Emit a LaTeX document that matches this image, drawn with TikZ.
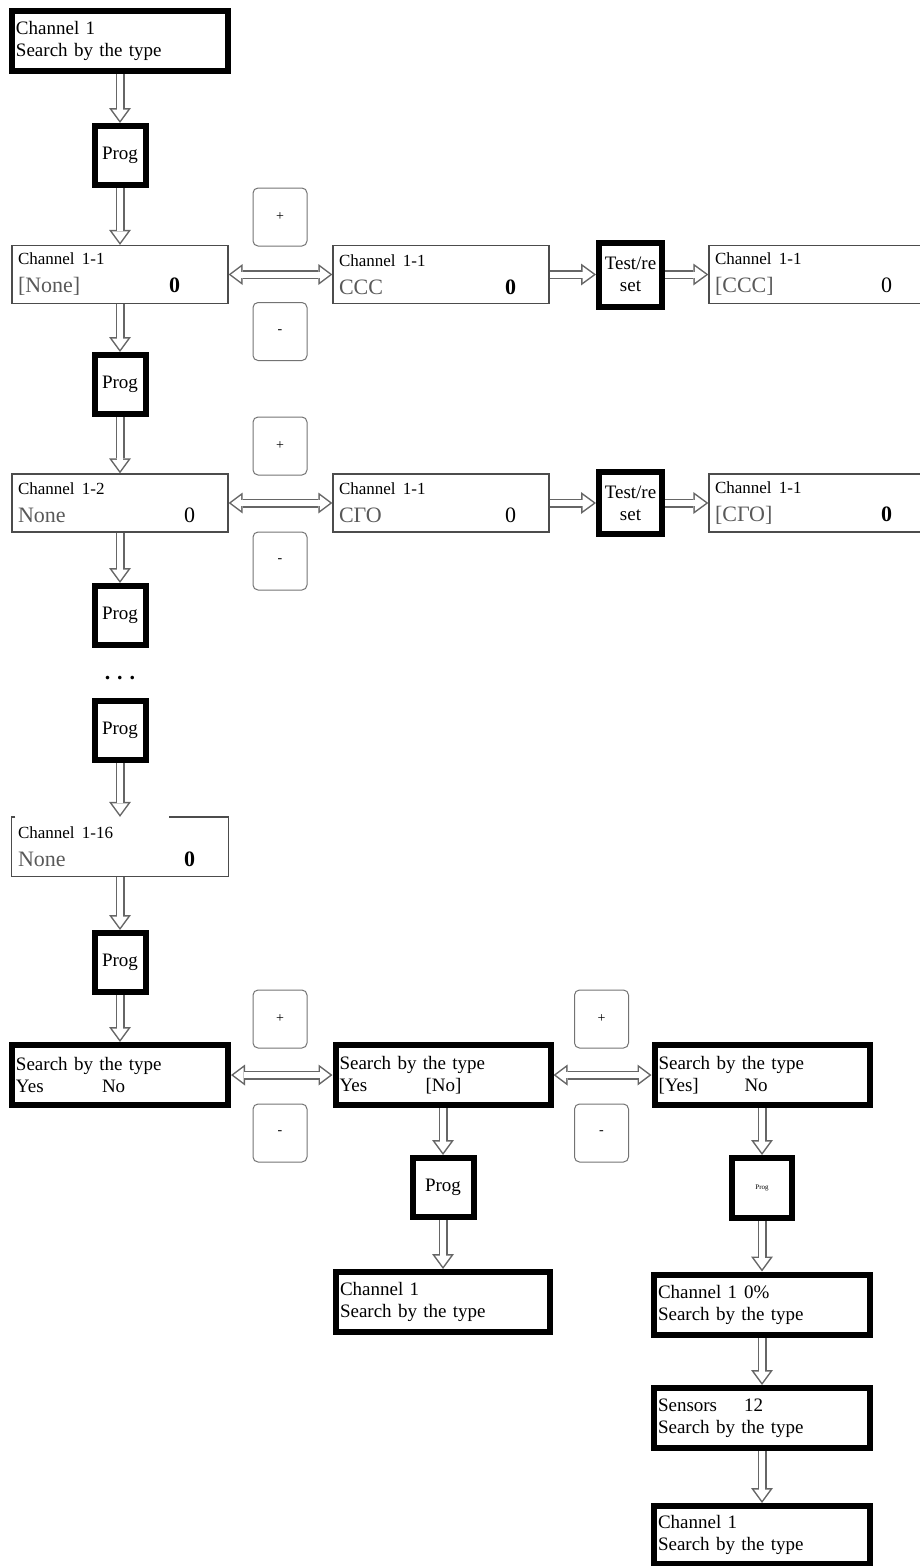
\documentclass[tikz,border=0pt]{standalone}
\usepackage{fontspec}
\setmainfont{Liberation Serif}
\usetikzlibrary{arrows.meta,backgrounds}

\definecolor{valgray}{gray}{0.35}
\newcommand{\chtitle}[1]{{\fontsize{17}{28}\selectfont #1}}
\newcommand{\chvalue}[3][166pt]{\makebox[#1][l]{\color{valgray}#2}#3}

\begin{document}
\begin{tikzpicture}[x=1pt,y=-1pt,
    thick box/.style={rectangle, draw=black, line width=6pt, minimum width=216pt,
      minimum height=60pt, text width=208pt, inner sep=4pt, align=left,
      font=\fontsize{19}{22}\selectfont},
    thin box/.style={rectangle, draw=black!70, line width=1.3pt, minimum width=216pt,
      minimum height=58pt, text width=204pt, inner xsep=6pt, inner ysep=2pt, align=left,
      font=\fontsize{22}{28}\selectfont},
    key box/.style={rectangle, draw=black, line width=6pt, minimum width=51pt,
      minimum height=59pt, inner sep=1pt, align=center, font=\fontsize{19}{22}\selectfont},
    btn/.style={rectangle, rounded corners=5pt, draw=black!55, line width=1pt,
      minimum width=54pt, minimum height=58pt, font=\fontsize{14}{16}\selectfont},
    flow/.style={draw=black!60, line width=9pt,
      -{Triangle[length=15pt,width=22pt,line width=0pt]},
      postaction={draw=white, line width=6pt,
        -{Triangle[length=11pt,width=16pt,line width=0pt]}, shorten >=2.5pt}},
    both flow/.style={draw=black!60, line width=9pt,
      {Triangle[length=14pt,width=21pt,line width=0pt]}-{Triangle[length=14pt,width=21pt,line width=0pt]},
      postaction={draw=white, line width=6pt,
        {Triangle[length=10pt,width=15pt,line width=0pt]}-{Triangle[length=10pt,width=15pt,line width=0pt]},
        shorten >=2.5pt, shorten <=2.5pt}}]

    \useasboundingbox (0,0) rectangle (920,1566);

    % left column
    \node[thick box] (start) at (120,41) {Channel 1\\Search by the type};
    \node[key box] (prog1) at (120,155.5) {Prog};
    \node[thin box] (ch11) at (120,274.5)
      {\chtitle{Channel 1-1}\\\chvalue[151pt]{[None]}{\textbf{0}}};
    \node[key box] (prog2) at (120,384.5) {Prog};
    \node[thin box] (ch12) at (120,503)
      {\chtitle{Channel 1-2}\\\chvalue{None}{0}};
    \node[key box] (prog3) at (120,615.5) {Prog};
    \node[font=\fontsize{22}{24}\selectfont] (dots) at (120,678)
      {\textbf{.\hspace{7pt}.\hspace{7pt}.}};
    \node[key box] (prog4) at (120,730) {Prog};
    \node[thin box, draw=none] (ch116) at (120,846.5)
      {\chtitle{Channel 1-16}\\\chvalue{None}{\textbf{0}}};
    \draw[black!70, line width=1.3pt] ([xshift=4pt]ch116.north west) -- (ch116.north west)
      -- (ch116.south west) -- (ch116.south east) -- (ch116.north east)
      -- ([xshift=-60pt]ch116.north east);
    \node[key box] (prog5) at (120,962.5) {Prog};
    \node[thick box] (sb1) at (120,1075) {Search by the type\\\chvalue[86pt]{\color{black}Yes}{No}};

    % first row
    \node[btn] (plus1) at (280,217) {+};
    \node[btn] (minus1) at (280,331.5) {-};
    \node[thin box] (ccc) at (441,274.5)
      {\chtitle{Channel 1-1}\\\chvalue{CCC}{\textbf{0}}};
    \node[key box, minimum width=63pt, minimum height=64pt] (test1) at (630.5,274.5) {Test/re\\set};
    \node[thin box] (cccsel) at (817,274.5)
      {\chtitle{Channel 1-1}\\\chvalue{[CCC]}{0}};

    % second row
    \node[btn] (plus2) at (280,446) {+};
    \node[btn] (minus2) at (280,561) {-};
    \node[thin box] (cgo) at (441,503)
      {\chtitle{Channel 1-1}\\\chvalue{CГО}{0}};
    \node[key box, minimum width=63pt, minimum height=62pt] (test2) at (630.5,503) {Test/re\\set};
    \node[thin box] (cgosel) at (817,503)
      {\chtitle{Channel 1-1}\\\chvalue{[CГО]}{\textbf{0}}};

    % search row
    \node[btn] (plus3) at (280,1019) {+};
    \node[btn] (minus3) at (280,1133) {-};
    \node[thick box, minimum width=215pt, text width=207pt] (sb2) at (443,1075)
      {Search by the type\\\chvalue[86pt]{\color{black}Yes}{[No]}};
    \node[btn] (plus4) at (601.5,1019) {+};
    \node[btn] (minus4) at (601.5,1133) {-};
    \node[thick box, minimum width=215pt, text width=207pt] (sb3) at (762,1075)
      {Search by the type\\\chvalue[86pt]{\color{black}[Yes]}{No}};

    % after the choice
    \node[key box, minimum width=61pt] (prog6) at (443,1187.5) {Prog};
    \node[thick box, minimum width=214pt, text width=206pt] (ch1mid) at (443,1302)
      {Channel 1\\Search by the type};
    \node[key box, minimum width=60pt, minimum height=60pt,
      font=\fontsize{7}{8}\selectfont] (prog7) at (762,1188) {Prog};
    \node[thick box] (ch1pct) at (762,1304.5)
      {\chvalue[86pt]{\color{black}Channel 1}{0\%}\\Search by the type};
    \node[thick box] (sensors) at (762,1418)
      {\chvalue[86pt]{\color{black}Sensors}{12}\\Search by the type};
    \node[thick box, minimum height=58pt] (ch1end) at (762,1535)
      {Channel 1\\Search by the type};

    % connectors, behind the boxes
    \begin{scope}[on background layer]
    \draw[flow] (start) -- (prog1);
    \draw[flow] (prog1) -- (ch11);
    \draw[flow] (ch11) -- (prog2);
    \draw[flow] (prog2) -- (ch12);
    \draw[flow] (ch12) -- (prog3);
    \draw[flow] (prog4) -- (ch116);
    \draw[flow] (ch116) -- (prog5);
    \draw[flow] (prog5) -- (sb1);
    \draw[both flow] (ch11.east) -- (ccc.west);
    \draw[flow] (ccc.east) -- (test1.west);
    \draw[flow] (test1.east) -- (cccsel.west);
    \draw[both flow] (ch12.east) -- (cgo.west);
    \draw[flow] (cgo.east) -- (test2.west);
    \draw[flow] (test2.east) -- (cgosel.west);
    \draw[both flow] (sb1.east) -- (sb2.west);
    \draw[both flow] (sb2.east) -- (sb3.west);
    \draw[flow] (sb2) -- (prog6);
    \draw[flow] (prog6) -- (ch1mid);
    \draw[flow] (sb3) -- (prog7);
    \draw[flow] (prog7) -- (ch1pct);
    \draw[flow] (ch1pct) -- (sensors);
    \draw[flow] (sensors) -- (ch1end);
    \end{scope}
\end{tikzpicture}
\end{document}
